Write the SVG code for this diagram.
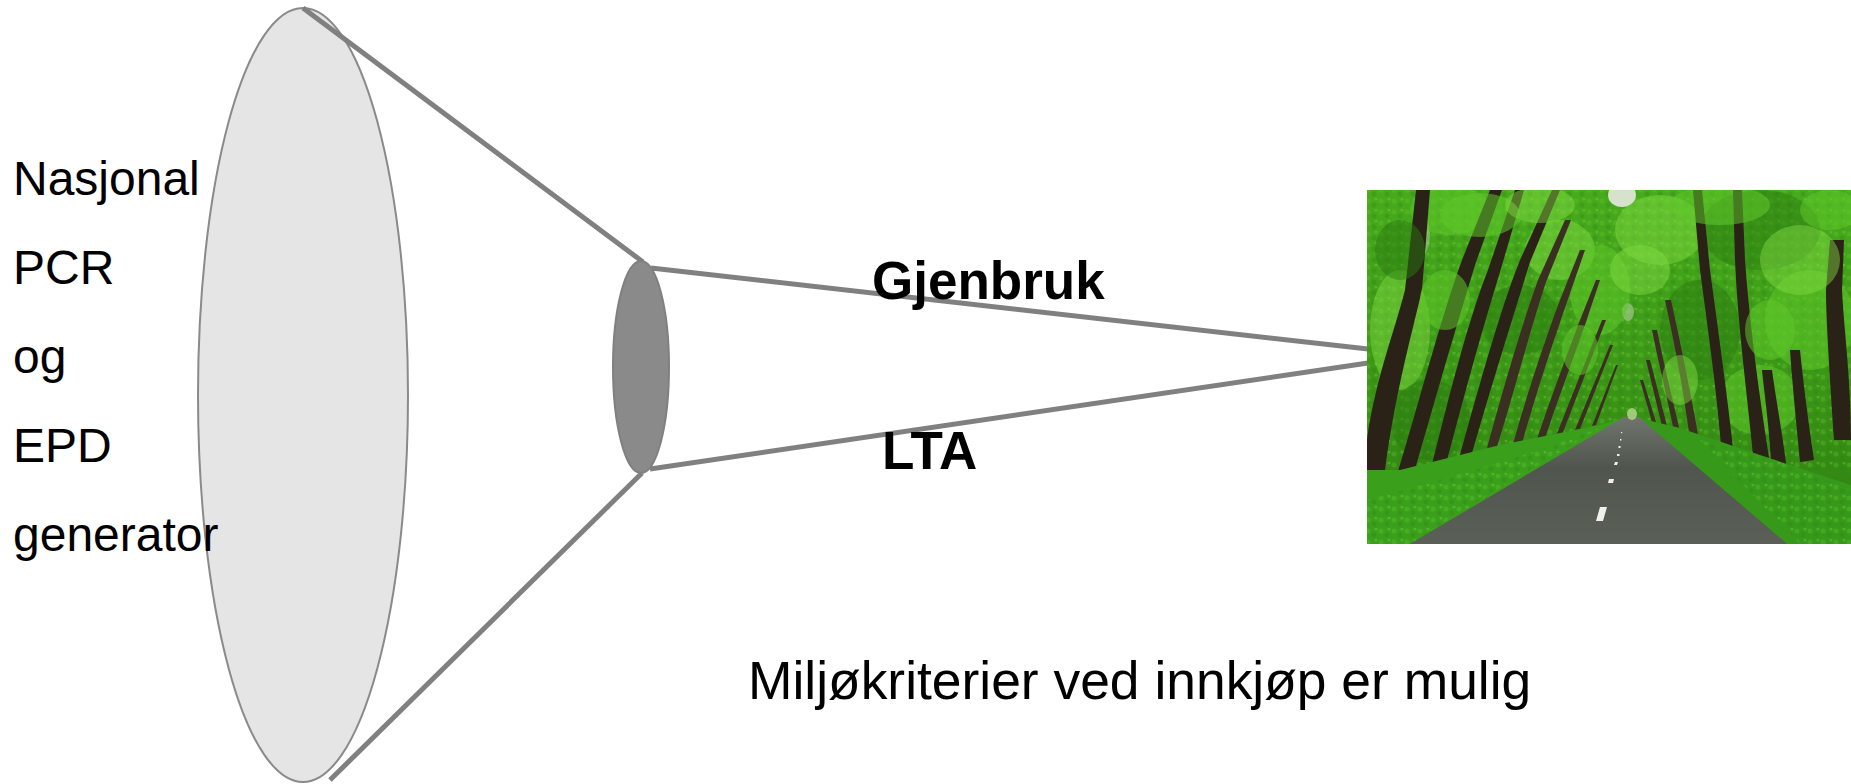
<svg xmlns="http://www.w3.org/2000/svg" width="1851" height="784" viewBox="0 0 1851 784">
<style>
.lbl{font-family:"Liberation Sans",Arial,sans-serif;fill:#000;}
.reg{font-size:48px;}
.bold{font-size:53px;font-weight:bold;}
.conn{stroke:#808080;stroke-width:5;fill:none;stroke-linecap:butt;}
.trunk{fill:#2a2117;}
.trunk2{fill:#3a2f20;}
.fl{fill:#5fc62a;opacity:0.55;}
.fd{fill:#2a7a0f;opacity:0.5;}
.fb{fill:#86dd45;opacity:0.45;}
</style>
<defs>
<clipPath id="photoClip"><rect x="1367" y="190" width="484" height="354"/></clipPath>
<linearGradient id="road" x1="0" y1="0" x2="0" y2="1">
<stop offset="0" stop-color="#6f756c"/>
<stop offset="0.4" stop-color="#50564e"/>
<stop offset="1" stop-color="#5a5f57"/>
</linearGradient>
<linearGradient id="bg" x1="0" y1="0" x2="0" y2="1">
<stop offset="0" stop-color="#47ab1d"/>
<stop offset="0.5" stop-color="#3c9817"/>
<stop offset="1" stop-color="#2e8011"/>
</linearGradient>
<pattern id="leaves" width="13" height="11" patternUnits="userSpaceOnUse">
<circle cx="3" cy="3" r="2.5" fill="#66cc2e"/>
<circle cx="9" cy="7" r="2.5" fill="#2f8012"/>
<circle cx="11" cy="1" r="1.5" fill="#8ae24a"/>
</pattern>
</defs>
<rect width="1851" height="784" fill="#fff"/>

<g id="big-ellipse">
<ellipse cx="303" cy="395" rx="105" ry="387" fill="#e5e5e5" stroke="#8a8a8a" stroke-width="2"/>
</g>

<g id="left-text">
<text class="lbl reg" x="13" y="195">Nasjonal</text>
<text class="lbl reg" x="13" y="284">PCR</text>
<text class="lbl reg" x="13" y="373">og</text>
<text class="lbl reg" x="13" y="462">EPD</text>
<text class="lbl reg" x="13" y="551">generator</text>
</g>

<g id="connectors">
<line class="conn" x1="303" y1="8" x2="643" y2="262"/>
<line class="conn" x1="642" y1="473" x2="330" y2="780"/>
<line class="conn" x1="651" y1="268" x2="1368" y2="349"/>
<line class="conn" x1="650" y1="469" x2="1368" y2="363"/>
</g>

<g id="small-ellipse">
<ellipse cx="641" cy="367" rx="28" ry="106" fill="#8a8a8a" stroke="#808080" stroke-width="2"/>
</g>

<g id="labels">
<text class="lbl bold" x="872" y="299">Gjenbruk</text>
<text class="lbl bold" x="882" y="469">LTA</text>
<text class="lbl" x="748" y="699" font-size="53.4">Miljøkriterier ved innkjøp er mulig</text>
</g>

<g id="photo" clip-path="url(#photoClip)">
<rect x="1367" y="190" width="484" height="354" fill="url(#bg)"/>
<rect x="1367" y="190" width="484" height="280" fill="url(#leaves)" opacity="0.3"/>
<ellipse cx="1622" cy="195" rx="14" ry="12" fill="#d6e2cc"/>
<ellipse cx="1422" cy="235" rx="8" ry="20" fill="#b8cfa6" opacity="0.45"/>
<ellipse cx="1628" cy="312" rx="6" ry="9" fill="#c8d8b8" opacity="0.5"/>
<!-- background foliage blobs -->
<ellipse class="fl" cx="1450" cy="210" rx="40" ry="25"/>
<ellipse class="fb" cx="1560" cy="250" rx="35" ry="30"/>
<ellipse class="fd" cx="1520" cy="320" rx="40" ry="35"/>
<ellipse class="fl" cx="1600" cy="290" rx="30" ry="45"/>
<ellipse class="fb" cx="1660" cy="230" rx="45" ry="35"/>
<ellipse class="fd" cx="1760" cy="230" rx="60" ry="40"/>
<ellipse class="fl" cx="1810" cy="320" rx="45" ry="50"/>
<ellipse class="fd" cx="1700" cy="330" rx="40" ry="50"/>
<ellipse class="fb" cx="1400" cy="330" rx="30" ry="60"/>
<ellipse class="fd" cx="1430" cy="420" rx="40" ry="40"/>
<ellipse class="fl" cx="1760" cy="400" rx="40" ry="35"/>
<!-- left trunks -->
<path class="trunk" d="M1367,480 L1367,440 C1375,380 1395,330 1405,290 L1416,190 L1430,190 L1422,290 C1410,340 1394,400 1385,470 L1380,530 Z"/>
<path class="trunk" d="M1396,478 C1420,400 1440,320 1462,260 L1490,190 L1502,190 L1476,262 C1455,330 1432,410 1412,480 Z"/>
<path class="trunk" d="M1428,480 C1448,400 1468,320 1488,270 L1515,190 L1524,190 L1500,272 C1482,330 1460,410 1442,480 Z"/>
<path class="trunk" d="M1458,462 C1478,390 1500,310 1520,260 L1552,190 L1560,190 L1530,262 C1512,320 1490,390 1470,460 Z"/>
<path class="trunk2" d="M1486,452 C1500,400 1520,330 1538,280 L1565,220 L1571,220 L1546,282 C1530,330 1512,400 1496,450 Z"/>
<path class="trunk2" d="M1512,448 C1525,400 1545,340 1560,300 L1580,250 L1585,250 L1567,302 C1552,345 1534,400 1521,447 Z"/>
<path class="trunk2" d="M1536,442 C1550,400 1565,360 1580,320 L1596,280 L1600,280 L1586,322 C1572,362 1557,402 1544,441 Z"/>
<path class="trunk2" d="M1556,436 L1602,320 L1606,320 L1562,435 Z"/>
<path class="trunk2" d="M1575,430 L1610,345 L1613,345 L1580,429 Z"/>
<path class="trunk2" d="M1592,426 L1616,365 L1618,365 L1596,425 Z"/>
<!-- right trunks -->
<path class="trunk" d="M1722,460 C1718,400 1708,330 1700,270 L1693,190 L1702,190 L1710,270 C1718,330 1728,400 1734,458 Z"/>
<path class="trunk" d="M1754,466 C1748,400 1738,330 1735,260 L1733,190 L1742,190 L1745,260 C1750,330 1760,400 1770,464 Z"/>
<path class="trunk" d="M1772,480 C1770,430 1765,400 1762,370 L1772,370 C1776,400 1782,430 1788,478 Z"/>
<path class="trunk" d="M1800,462 C1796,420 1792,380 1790,350 L1800,350 C1803,380 1808,420 1814,460 Z"/>
<path class="trunk" d="M1834,440 C1830,380 1826,320 1826,290 L1830,240 L1844,240 L1842,290 C1844,330 1851,380 1851,440 Z"/>
<path class="trunk2" d="M1690,440 C1685,400 1676,350 1665,300 L1671,300 C1682,350 1692,400 1699,440 Z"/>
<path class="trunk2" d="M1674,432 C1668,400 1660,370 1652,330 L1657,330 C1665,370 1673,400 1680,432 Z"/>
<path class="trunk2" d="M1662,426 L1646,360 L1650,360 L1667,426 Z"/>
<path class="trunk2" d="M1652,422 L1640,380 L1643,380 L1656,422 Z"/>
<!-- foliage over trunks -->
<ellipse class="fl" cx="1480" cy="215" rx="40" ry="22"/>
<ellipse class="fb" cx="1540" cy="205" rx="35" ry="18"/>
<ellipse class="fl" cx="1720" cy="205" rx="50" ry="20"/>
<ellipse class="fb" cx="1800" cy="260" rx="40" ry="35"/>
<ellipse class="fl" cx="1770" cy="330" rx="25" ry="30"/>
<ellipse class="fl" cx="1445" cy="300" rx="25" ry="30"/>
<ellipse class="fb" cx="1640" cy="270" rx="30" ry="25"/>
<ellipse class="fl" cx="1580" cy="350" rx="18" ry="25"/>
<ellipse class="fb" cx="1680" cy="380" rx="18" ry="25"/>
<ellipse class="fd" cx="1400" cy="250" rx="25" ry="30"/>
<ellipse class="fl" cx="1830" cy="210" rx="30" ry="20"/>
<!-- grass -->
<polygon points="1367,470 1400,470 1500,445 1600,425 1624,418 1410,544 1367,544" fill="#3aa01c"/>
<polygon points="1367,500 1440,480 1540,450 1600,428 1480,500 1410,544 1367,544" fill="url(#leaves)" opacity="0.3"/>
<polygon points="1639,418 1680,428 1760,455 1851,485 1851,544 1787,544" fill="#36991a"/>
<polygon points="1700,440 1780,462 1851,490 1851,544 1800,544" fill="url(#leaves)" opacity="0.3"/>
<!-- road -->
<polygon points="1410,544 1787,544 1639,417 1624,417" fill="url(#road)"/>
<g fill="#f0f0f0">
<polygon points="1596,521 1600,507 1607,507 1603,521"/>
<polygon points="1608,483 1609,479 1614,479 1613,483"/>
<polygon points="1614,465 1615,462 1618,462 1617,465"/>
<rect x="1617" y="454" width="2.5" height="2"/>
<rect x="1618.5" y="446" width="2" height="2"/>
<rect x="1620" y="439" width="1.5" height="1.5"/>
<rect x="1621" y="432" width="1.2" height="1.2"/>
</g>
<ellipse cx="1632" cy="414" rx="5" ry="6" fill="#b9d890" opacity="0.8"/>
</g>
</svg>
